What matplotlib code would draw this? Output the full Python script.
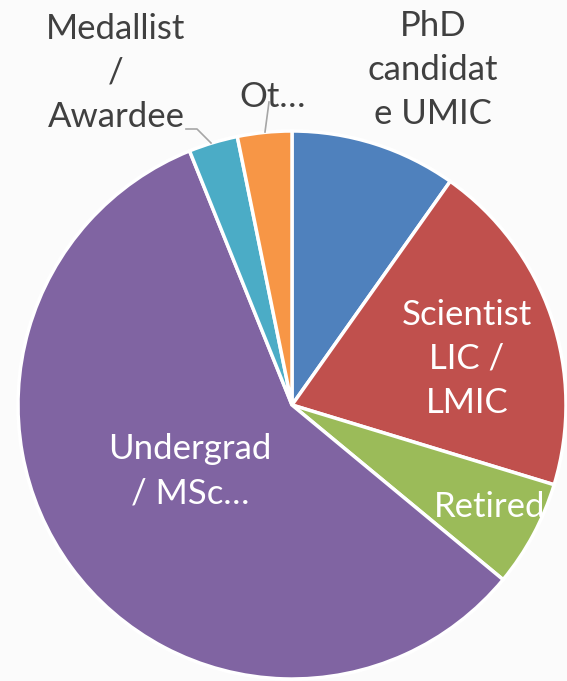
import matplotlib
matplotlib.use("Agg")
import matplotlib.pyplot as plt

categories = ["PhD\ncandidat\ne UMIC", "Scientist\nLIC /\nLMIC", "Retired",
              "Undergrad\n/ MSc…", "Medallist\n/\nAwardee", "Ot…"]
values = [9.8, 19.9, 6.3, 57.9, 2.9, 3.2]
colors = ["#4F81BD", "#C0504D", "#9BBB59", "#8064A2", "#4BACC6", "#F79646"]

W, H = 567, 681
fig = plt.figure(figsize=(W / 100, H / 100), dpi=100)
fig.patch.set_facecolor("#fbfbfb")
ax = fig.add_axes([0, 0, 1, 1])

cx, cy, r = 292, H - 405, 274
ax.pie(values, colors=colors, startangle=90, counterclock=False,
       center=(cx, cy), radius=r, frame=True,
       wedgeprops=dict(edgecolor="white", linewidth=2.5))
ax.set_xlim(0, W)
ax.set_ylim(0, H)
ax.set_aspect("equal")
ax.axis("off")

font = "Lato"
fs = 25
dark = "#404040"
lab_pos = [(433, 70, dark), (467, 359, "white"), (490, 507, "white"),
           (190, 471, "white"), (116, 73, dark), (273, 97, dark)]
for lab, (x, y, c) in zip(categories, lab_pos):
    ax.text(x, H - y, lab, ha="center", va="center", color=c,
            fontsize=fs, family=font, linespacing=1.47)

# leader lines
ax.plot([186, 197, 211], [H - 129, H - 129, H - 143], color="#a6a6a6", lw=1.2)
ax.plot([269, 265], [H - 102, H - 132], color="#a6a6a6", lw=1.2)

fig.savefig("out.png", dpi=100, facecolor=fig.get_facecolor())
